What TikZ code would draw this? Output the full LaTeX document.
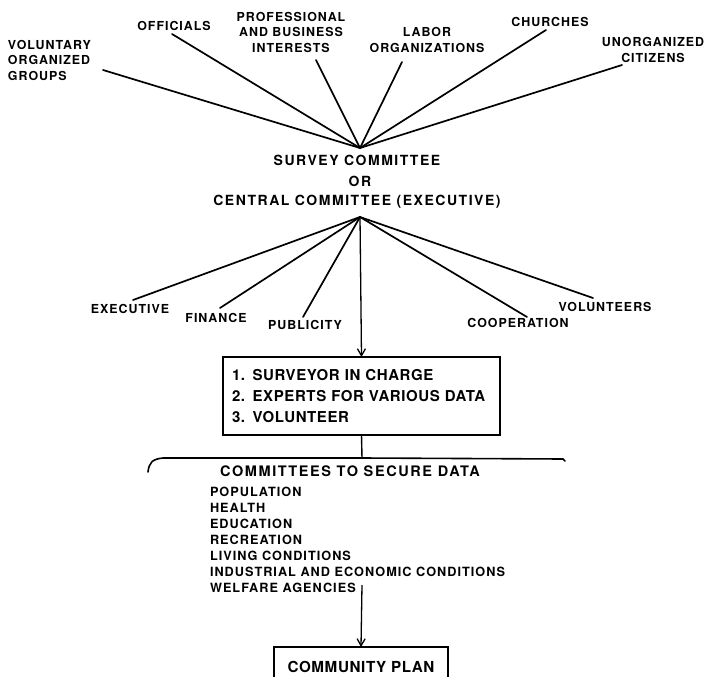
\documentclass[tikz,border=0pt]{standalone}
\usepackage{fontspec}
\setmainfont{TeX Gyre Heros}
\newfontfamily\lblfont[LetterSpace=8]{TeX Gyre Heros}
\newfontfamily\headfont[LetterSpace=11]{TeX Gyre Heros}
\newfontfamily\boxfont[LetterSpace=4]{TeX Gyre Heros}
\usetikzlibrary{arrows.meta}
\begin{document}
\begin{tikzpicture}[x=1pt,y=-1pt]
  \tikzstyle{lbl}=[inner sep=0pt, outer sep=0pt, align=center,
    font=\lblfont\bfseries\fontsize{12.4}{15.5}\selectfont]
  \tikzstyle{head}=[inner sep=0pt, outer sep=0pt,
    font=\headfont\bfseries\fontsize{14}{16}\selectfont]
  \tikzstyle{spoke}=[color=black, line width=1.7pt, line cap=round]
  \tikzstyle{flow}=[color=black, line width=1.3pt, -{Straight Barb[length=7pt,width=8pt,line width=1.3pt]}]
  \tikzstyle{frame}=[draw, line width=1.3pt, inner sep=0pt, outer sep=0pt]
  \fill[white] (0,0) rectangle (704,677);
  \useasboundingbox (0,0) rectangle (704,677);
  % groups feeding the committee
  \node[lbl, align=left, anchor=west] (vog) at (8,60) {VOLUNTARY\\ORGANIZED\\GROUPS};
  \node[lbl] (offi)   at (174,26) {OFFICIALS};
  \node[lbl] (pbi)    at (291,32) {PROFESSIONAL\\AND BUSINESS\\INTERESTS};
  \node[lbl] (labor)  at (427,40) {LABOR\\ORGANIZATIONS};
  \node[lbl] (church) at (550,22) {CHURCHES};
  \node[lbl] (unorg)  at (653,50) {UNORGANIZED\\CITIZENS};
  \coordinate (eVog)    at (103,70);
  \coordinate (eOffi)   at (172,34);
  \coordinate (ePbi)    at (316,60);
  \coordinate (eLabor)  at (402,62);
  \coordinate (eChurch) at (546,30);
  \coordinate (eUnorg)  at (622,65);
  \coordinate (hubUp)   at (360,148);
  \node[head] (survey)  at (357,160) {SURVEY COMMITTEE};
  \node[head] (orr)     at (360,181) {OR};
  \node[head] (central) at (357,202) {CENTRAL COMMITTEE (EXECUTIVE)};
  \coordinate (hubDown) at (360,217);
  \draw [spoke] (eVog)    -- (hubUp);
  \draw [spoke] (eOffi)   -- (hubUp);
  \draw [spoke] (ePbi)    -- (hubUp);
  \draw [spoke] (eLabor)  -- (hubUp);
  \draw [spoke] (eChurch) -- (hubUp);
  \draw [spoke] (eUnorg)  -- (hubUp);
  % sub-committees
  \node[lbl] (exec) at (130,309) {EXECUTIVE};
  \node[lbl] (fin)  at (216,318) {FINANCE};
  \node[lbl] (pub)  at (305,325) {PUBLICITY};
  \node[lbl] (coop) at (518,323) {COOPERATION};
  \node[lbl] (volu) at (605,307) {VOLUNTEERS};
  \coordinate (fExec) at (133,300);
  \coordinate (fFin)  at (220,308);
  \coordinate (fPub)  at (303,317);
  \coordinate (fCoop) at (527,317);
  \coordinate (fVolu) at (593,298);
  \draw [spoke] (hubDown) -- (fExec);
  \draw [spoke] (hubDown) -- (fFin);
  \draw [spoke] (hubDown) -- (fPub);
  \draw [spoke] (hubDown) -- (fCoop);
  \draw [spoke] (hubDown) -- (fVolu);
  % staff box
  \node[frame, anchor=north west, minimum width=277pt, minimum height=78pt,
    text width=259pt, align=left,
    font=\boxfont\bfseries\fontsize{15}{21}\selectfont] (tasks) at (223,357)
    {1. SURVEYOR IN CHARGE\\2. EXPERTS FOR VARIOUS DATA\\3. VOLUNTEER};
  \draw [flow] (hubDown) -- (tasks.north);
  \coordinate (brace) at (362,458);
  \coordinate (braceL) at (148,472);
  \coordinate (braceR) at (563,459);
  \draw [line width=1.4pt] (tasks.south) -- (brace);
  \draw [line width=1.6pt, line cap=round] (braceL) .. controls (149,463) and (152,459) .. (163,458)
    -- (brace) -- (braceR) -- (565,461);
  \node[head, font=\headfont\bfseries\fontsize{14.5}{16}\selectfont] (secure) at (350,471) {COMMITTEES TO SECURE DATA};
  \node[lbl, align=left, anchor=north west, font=\lblfont\bfseries\fontsize{12.7}{16}\selectfont] (areas) at (210,487)
    {POPULATION\\HEALTH\\EDUCATION\\RECREATION\\LIVING CONDITIONS\\INDUSTRIAL AND ECONOMIC CONDITIONS\\WELFARE AGENCIES};
  \coordinate (wEnd) at (362,585);
  % result
  \node[frame, minimum width=174pt, minimum height=40pt,
    font=\boxfont\bfseries\fontsize{15.2}{18}\selectfont] (plan) at (361,667) {COMMUNITY PLAN};
  \draw [flow] (wEnd) -- (plan.north);
\end{tikzpicture}
\end{document}
